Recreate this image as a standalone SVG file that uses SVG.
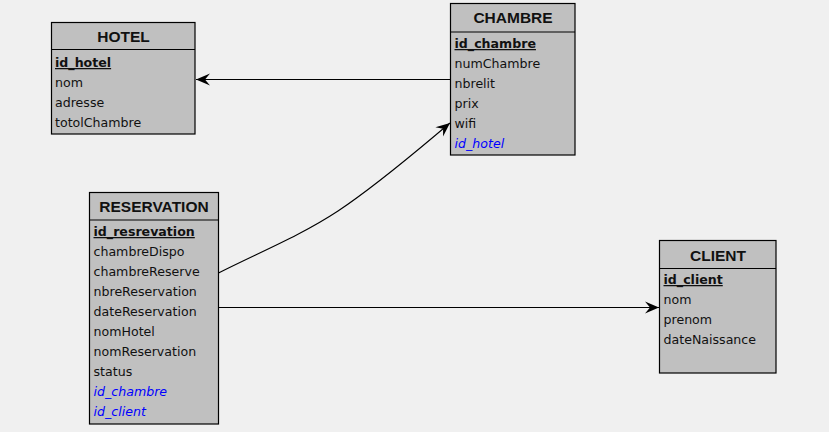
<svg xmlns="http://www.w3.org/2000/svg" width="829" height="432" viewBox="0 0 829 432">
<defs>
<style>
.box{fill:#c0c0c0;stroke:#000;stroke-width:1.2}
.sep{stroke:#000;stroke-width:1.2}
.hd{font-family:"Liberation Sans",Arial,sans-serif;font-weight:bold;font-size:15.5px;fill:#111;text-anchor:middle}
.f{font-family:"DejaVu Sans",sans-serif;font-size:12.6px;fill:#111}
.pk{font-weight:bold;text-decoration:underline}
.fk{font-style:italic;fill:#0000ff}
.cn{fill:none;stroke:#000;stroke-width:1.1}
</style>
<marker id="arr" markerUnits="userSpaceOnUse" markerWidth="20" markerHeight="16" viewBox="-16 -8 18 16" refX="0" refY="0" orient="auto">
<path d="M0,0 L-14,-6 L-9,0 L-14,6 Z" fill="#000"/>
</marker>
</defs>
<rect width="829" height="432" fill="#f0f0f0"/>
<g id="connectors">
<path class="cn" d="M450,79.5 L196,79.5" marker-end="url(#arr)"/>
<path class="cn" d="M218.5,273 C260,252 300,236 338,211 C380,183 420,148 450,123" marker-end="url(#arr)"/>
<path class="cn" d="M218.5,307.5 L659,307.5" marker-end="url(#arr)"/>
</g>
<g id="hotel">
<rect class="box" x="51.5" y="22.5" width="143.5" height="111.5"/>
<line class="sep" x1="51.5" y1="49.5" x2="195" y2="49.5"/>
<text class="hd" x="123.5" y="42">HOTEL</text>
<text class="f pk" x="55" y="67">id_hotel</text>
<text class="f" x="55" y="87">nom</text>
<text class="f" x="55" y="107">adresse</text>
<text class="f" x="55" y="127">totolChambre</text>
</g>
<g id="chambre">
<rect class="box" x="450.5" y="3.5" width="124.5" height="151.5"/>
<line class="sep" x1="450.5" y1="32" x2="575" y2="32"/>
<text class="hd" x="513" y="23">CHAMBRE</text>
<text class="f pk" x="454.5" y="48">id_chambre</text>
<text class="f" x="454.5" y="68">numChambre</text>
<text class="f" x="454.5" y="88">nbrelit</text>
<text class="f" x="454.5" y="108">prix</text>
<text class="f" x="454.5" y="128">wifi</text>
<text class="f fk" x="454.5" y="148">id_hotel</text>
</g>
<g id="reservation">
<rect class="box" x="89.5" y="192.5" width="129" height="231.5"/>
<line class="sep" x1="89.5" y1="220" x2="218.5" y2="220"/>
<text class="hd" x="154" y="212">RESERVATION</text>
<text class="f pk" x="93.5" y="236">id_resrevation</text>
<text class="f" x="93.5" y="256">chambreDispo</text>
<text class="f" x="93.5" y="276">chambreReserve</text>
<text class="f" x="93.5" y="296">nbreReservation</text>
<text class="f" x="93.5" y="316">dateReservation</text>
<text class="f" x="93.5" y="336">nomHotel</text>
<text class="f" x="93.5" y="356">nomReservation</text>
<text class="f" x="93.5" y="376">status</text>
<text class="f fk" x="93.5" y="396">id_chambre</text>
<text class="f fk" x="93.5" y="416">id_client</text>
</g>
<g id="client">
<rect class="box" x="659.5" y="240.5" width="116.5" height="132.5"/>
<line class="sep" x1="659.5" y1="268.5" x2="776" y2="268.5"/>
<text class="hd" x="718" y="261">CLIENT</text>
<text class="f pk" x="663.5" y="284">id_client</text>
<text class="f" x="663.5" y="304">nom</text>
<text class="f" x="663.5" y="324">prenom</text>
<text class="f" x="663.5" y="344">dateNaissance</text>
</g>
</svg>
